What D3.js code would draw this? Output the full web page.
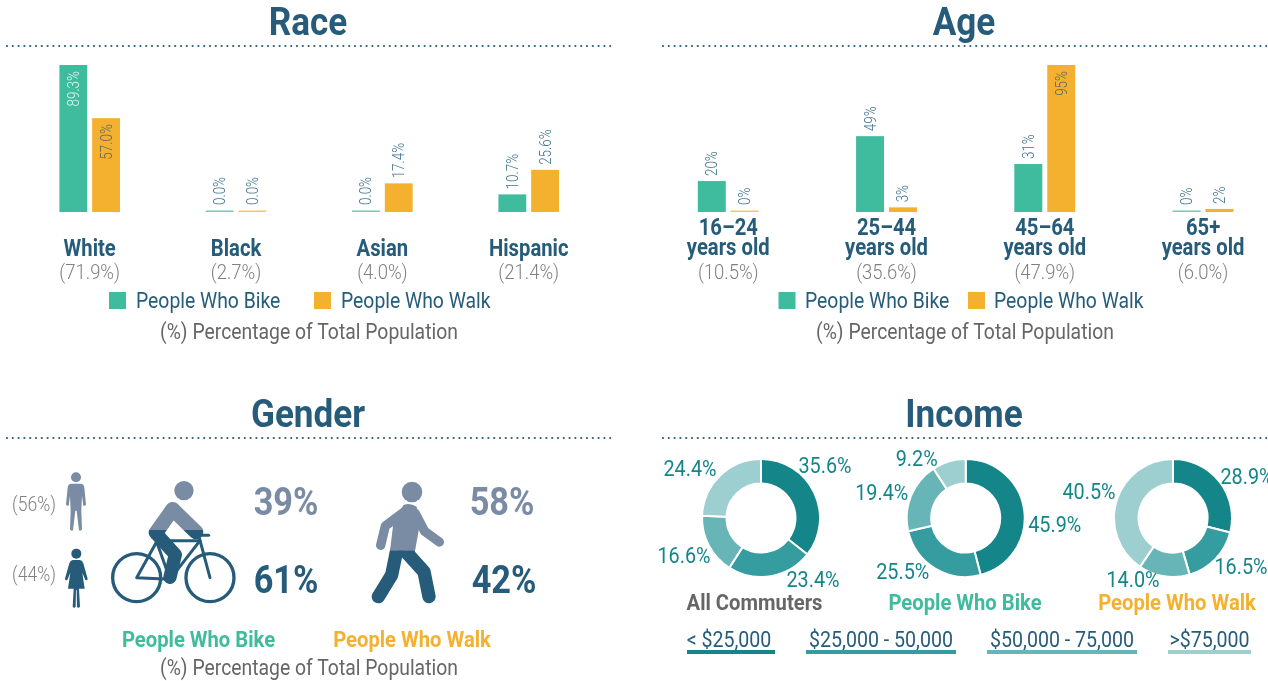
<!DOCTYPE html>
<html>
<head>
<meta charset="utf-8">
<script src="https://cdn.jsdelivr.net/npm/d3@7"></script>
<style>
html, body { margin: 0; padding: 0; background: #fff; overflow: hidden; }
svg { display: block; will-change: transform; }
text { font-family: Roboto, sans-serif; }
</style>
</head>
<body>
<svg id="chart" width="1268" height="681"></svg>
<script>
// Race panel
var race_names = ['White', 'Black', 'Asian', 'Hispanic'];
var race_share = ['(71.9%)', '(2.7%)', '(4.0%)', '(21.4%)'];
var race_bike = [89.3, 0, 0, 10.7];
var race_walk = [57.0, 0, 17.4, 25.6];

// Age panel
var age_names = ['16–24', '25–44', '45–64', '65+'];
var age_share = ['(10.5%)', '(35.6%)', '(47.9%)', '(6.0%)'];
var age_bike = [20, 49, 31, 0];
var age_walk = [0, 3, 95, 2];

// Gender panel
var gender_share = ['(56%)', '(44%)'];
var gender_bike = ['39%', '61%'];
var gender_walk = ['58%', '42%'];

// Income panel
var income_names = ['< $25,000', '$25,000 - 50,000', '$50,000 - 75,000', '>$75,000'];
var income_groups = ['All Commuters', 'People Who Bike', 'People Who Walk'];
var income_all = [35.6, 23.4, 16.6, 24.4];
var income_bike = [45.9, 25.5, 19.4, 9.2];
var income_walk = [28.9, 16.5, 14.0, 40.5];

var BLUE = '#265c7a', SLATE = '#7a8ca3', GREEN = '#3fbb9d', ORANGE = '#f4b12f', GREY = '#808080', DGREY = '#666666';
var income_colors = ['#14868a', '#359c9f', '#68b5b7', '#9dcfd0'];
var SQUEEZE = 0.88;  // no Roboto Condensed here, so squeeze Roboto sideways

var svg = d3.select('#chart');

function label(parent, str, x, y, o) {
    o = o || {};
    return parent.append('text')
        .attr('transform', 'translate(' + x + ',' + y + ') scale(' + (o.sx || SQUEEZE) + ',1)')
        .attr('text-anchor', o.anchor || 'middle')
        .attr('font-size', o.size || 22)
        .attr('font-weight', o.weight || 400)
        .attr('fill', o.fill || BLUE)
        .text(str);
}

function header(str, cx, x0, x1, base) {
    label(svg, str, cx, base, {size: 39, weight: 700, sx: 0.9});
    svg.append('line')
        .attr('x1', x0).attr('x2', x1)
        .attr('y1', base + 11).attr('y2', base + 11)
        .attr('stroke', BLUE)
        .attr('stroke-width', 2.2)
        .attr('stroke-linecap', 'round')
        .attr('stroke-dasharray', '0 5.8');
}

//-----------------------------------------------------------------------------
function barPanel(names, bike, walk, range, pad, fmt) {
    var rows = names.map(function(d, i) { return {name: d, bike: bike[i], walk: walk[i]}; });

    var x0 = d3.scaleBand().domain(names).range(range).paddingInner(pad);
    var x1 = d3.scaleBand().domain(['bike', 'walk']).range([0, x0.bandwidth()]).paddingInner(0.15);
    var y = d3.scaleLinear()
        .domain([0, d3.max(bike.concat(walk))])
        .range([212, 65]);

    var groups = svg.append('g').selectAll('g')
        .data(rows)
        .enter().append('g')
        .attr('transform', function(d) { return 'translate(' + x0(d.name) + ',0)'; });

    ['bike', 'walk'].forEach(function(k) {
        var col = k == 'bike' ? GREEN : ORANGE;
        groups.append('rect')
            .attr('x', x1(k))
            .attr('width', x1.bandwidth())
            .attr('y', function(d) { return Math.min(y(d[k]), 210.5); })
            .attr('height', function(d) { return Math.max(212 - y(d[k]), 1.5); })
            .attr('fill', col)
            .attr('fill-opacity', function(d) { return d[k] == 0 ? 0.75 : 1; });

        // long bars carry the number inside, the rest above the bar
        groups.append('text')
            .attr('transform', function(d) {
                var inside = y(d[k]) < 125;
                var yy = inside ? y(d[k]) + 6 : Math.min(y(d[k]), 210) - 5;
                return 'translate(' + (x1(k) + x1.bandwidth() / 2 + 5.5) + ',' + yy + ') rotate(-90) scale(0.84,1)';
            })
            .attr('text-anchor', function(d) { return y(d[k]) < 125 ? 'end' : 'start'; })
            .attr('font-size', 16)
            .attr('font-weight', 300)
            .attr('fill', function(d) {
                if (y(d[k]) >= 125) return '#3f7391';
                return k == 'bike' ? '#e4f5f0' : '#5a6a5e';
            })
            .text(function(d) { return fmt(d[k]); });
    });
    return x0;
}

// Race
header('Race', 308, 7, 611, 35);
var xRace = barPanel(race_names, race_bike, race_walk, [59.4, 559], 0.586, function(d) { return d.toFixed(1) + '%'; });
race_names.forEach(function(d, i) {
    var cx = xRace(d) + xRace.bandwidth() / 2;
    label(svg, d, cx, 256, {size: 23, weight: 700});
    label(svg, race_share[i], cx, 279, {size: 21, weight: 300, fill: GREY});
});

// Age
header('Age', 964, 663, 1268, 35);
var xAge = barPanel(age_names, age_bike, age_walk, [697.8, 1233.5], 0.615, function(d) { return d + '%'; });
age_names.forEach(function(d, i) {
    var cx = xAge(d) + xAge.bandwidth() / 2;
    var t = label(svg, '', cx, 235, {size: 23, weight: 700});
    t.append('tspan').attr('x', 0).text(d);
    t.append('tspan').attr('x', 0).attr('dy', 20).text('years old');
    label(svg, age_share[i], cx, 279, {size: 21, weight: 300, fill: GREY});
});

function legend(x_swatch1, x_text1, x_swatch2, x_text2, foot_cx) {
    [[x_swatch1, x_text1, GREEN, 'People Who Bike'], [x_swatch2, x_text2, ORANGE, 'People Who Walk']].forEach(function(l) {
        svg.append('rect').attr('x', l[0]).attr('y', 292).attr('width', 17).attr('height', 17).attr('fill', l[2]);
        label(svg, l[3], l[1], 308, {anchor: 'start', size: 22});
    });
    label(svg, '(%) Percentage of Total Population', foot_cx, 339, {size: 22, fill: DGREY});
}
legend(109, 136, 314, 341, 309);
legend(778.5, 805, 968, 994, 965);

//-----------------------------------------------------------------------------
// Gender
header('Gender', 308, 7, 612, 427);

var defs = svg.append('defs');
function twoTone(id, x, yTop, yCut, yBottom, w, draw) {
    defs.append('clipPath').attr('id', id + '-top')
        .append('rect').attr('x', x).attr('y', yTop).attr('width', w).attr('height', yCut - yTop);
    defs.append('clipPath').attr('id', id + '-bot')
        .append('rect').attr('x', x).attr('y', yCut).attr('width', w).attr('height', yBottom - yCut);
    draw(svg.append('g').attr('clip-path', 'url(#' + id + '-top)').append('g'), SLATE);
    draw(svg.append('g').attr('clip-path', 'url(#' + id + '-bot)').append('g'), BLUE);
}

function line(g, d, col, w) {
    g.append('path').attr('d', d).attr('fill', 'none').attr('stroke', col)
        .attr('stroke-width', w).attr('stroke-linecap', 'round').attr('stroke-linejoin', 'round');
}

// man
var man = svg.append('g').attr('transform', 'translate(0,390) scale(0.3333)');
man.append('circle').attr('cx', 228).attr('cy', 262).attr('r', 15).attr('fill', SLATE);
man.append('path').attr('fill', SLATE)
    .attr('d', 'M212,281 L244,281 Q252,283 253,293 L258,343 Q257,349 250,347 L246,317 L244,362 L246,418 Q242,425 237,421 L230,362 L226,362 L219,421 Q214,425 210,418 L212,362 L210,317 L206,347 Q199,349 198,343 L203,293 Q204,283 212,281 Z');

// woman
var woman = svg.append('g').attr('transform', 'translate(0,390) scale(0.3333)');
woman.append('circle').attr('cx', 229).attr('cy', 491).attr('r', 15).attr('fill', BLUE);
woman.append('path').attr('fill', BLUE)
    .attr('d', 'M218,510 L240,510 Q247,511 250,520 L263,566 Q263,572 256,570 L247,548 L254,596 L237,596 L240,650 Q236,656 231,651 L230,600 L228,600 L227,651 Q222,656 218,650 L221,596 L204,596 L211,548 L202,570 Q195,572 195,566 L208,520 Q211,511 218,510 Z');

// cyclist
twoTone('rider', 100, 470, 530, 610, 150, function(g, col) {
    g.attr('transform', 'translate(0,390) scale(0.3333)');
    g.append('circle').attr('cx', 552).attr('cy', 302).attr('r', 29).attr('fill', col);
    line(g, 'M468,428 L518,358 L588,426', col, 44);
    line(g, 'M470,432 L526,494 L510,562', col, 40);
});
var bike = svg.append('g').attr('transform', 'translate(0,390) scale(0.3333)');
line(bike, 'M410,563 L470,455 L510,568 Z', BLUE, 9);
line(bike, 'M470,452 L600,452 L510,568', BLUE, 9);
line(bike, 'M596,436 L630,563', BLUE, 9);
line(bike, 'M596,436 L626,436', BLUE, 9);
[410, 630].forEach(function(cx) {
    bike.append('circle').attr('cx', cx).attr('cy', 563).attr('r', 72)
        .attr('fill', 'none').attr('stroke', BLUE).attr('stroke-width', 10);
});

// walker
twoTone('walker', 360, 470, 550.7, 610, 120, function(g, col) {
    g.attr('transform', 'translate(340,460) scale(0.3333)');
    g.append('circle').attr('cx', 216).attr('cy', 96).attr('r', 31).attr('fill', col);
    g.append('path').attr('fill', col).attr('d', 'M190,136 Q208,126 230,140 L240,190 L222,290 L148,290 L160,190 Z');
    line(g, 'M200,150 L136,198 L122,256', col, 28);
    line(g, 'M226,160 L254,214 L298,246', col, 28);
    line(g, 'M170,272 L155,345 L115,410', col, 40);
    line(g, 'M195,272 L252,335 L267,410', col, 40);
});

label(svg, gender_share[0], 34, 511, {size: 20, weight: 300, fill: GREY});
label(svg, gender_share[1], 34, 581, {size: 20, weight: 300, fill: GREY});
label(svg, gender_bike[0], 286, 515, {size: 39, weight: 700, fill: SLATE});
label(svg, gender_bike[1], 286, 593, {size: 39, weight: 700});
label(svg, gender_walk[0], 502, 515, {size: 39, weight: 700, fill: SLATE});
label(svg, gender_walk[1], 504, 593, {size: 39, weight: 700});
label(svg, 'People Who Bike', 198.5, 647, {size: 22, weight: 700, fill: GREEN, sx: 0.92});
label(svg, 'People Who Walk', 412, 647, {size: 22, weight: 700, fill: ORANGE, sx: 0.92});
label(svg, '(%) Percentage of Total Population', 309, 675, {size: 22, fill: DGREY});

//-----------------------------------------------------------------------------
// Income
header('Income', 964, 663, 1268, 427);

var pie = d3.pie().sort(null);
var arc = d3.arc().innerRadius(34.5).outerRadius(59);

// hand placed label offsets from each donut centre
var donut_label_offsets = [
    [[64, -53], [52, 61], [-77, 37], [-71, -50]],
    [[89, 6], [-63, 53], [-84, -26], [-49, -60]],
    [[74, -42], [68, 48], [-40, 61], [-84, -27]]
];
var donut_centers = [761, 965.7, 1173];
var donut_title_x = [754.5, 965, 1177];
var donut_title_col = [DGREY, GREEN, ORANGE];

[income_all, income_bike, income_walk].forEach(function(vals, n) {
    var g = svg.append('g').attr('transform', 'translate(' + donut_centers[n] + ',518)');
    g.selectAll('path')
        .data(pie(vals))
        .enter().append('path')
        .attr('d', arc)
        .attr('fill', function(d, i) { return income_colors[i]; })
        .attr('stroke', '#fff')
        .attr('stroke-width', 2);
    vals.forEach(function(v, i) {
        var off = donut_label_offsets[n][i];
        label(g, v.toFixed(1) + '%', off[0], off[1] + 8, {size: 22.5, fill: '#14868a'});
    });
    label(svg, income_groups[n], donut_title_x[n], 610, {size: 22, weight: 700, fill: donut_title_col[n], sx: 0.92});
});

var income_x = [[687, 775], [806, 956], [987, 1137], [1168, 1251]];
income_names.forEach(function(d, i) {
    label(svg, d, (income_x[i][0] + income_x[i][1]) / 2 - (i == 0 ? 2 : 0), 647, {size: 22, sx: 0.89});
    svg.append('rect')
        .attr('x', income_x[i][0]).attr('y', 650)
        .attr('width', income_x[i][1] - income_x[i][0]).attr('height', 4)
        .attr('fill', income_colors[i]);
});
</script>
</body>
</html>
